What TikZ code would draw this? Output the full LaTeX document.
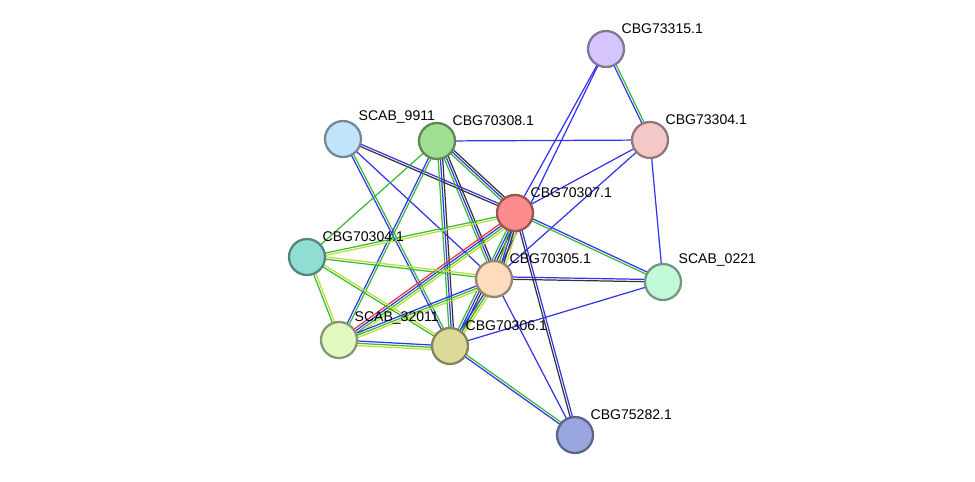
\documentclass[tikz,border=0pt]{standalone}
\usepackage{fontspec}
\setmainfont{Liberation Sans}
\usetikzlibrary{calc}
\pgfdeclarelayer{bg}
\pgfsetlayers{bg,main}
\definecolor{ebl}{HTML}{3333EE}
\definecolor{egr}{HTML}{33BB33}
\definecolor{eye}{HTML}{BBDD33}
\definecolor{ebk}{HTML}{333333}
\definecolor{ere}{HTML}{EE3333}
\definecolor{ca}{HTML}{D6C4FC}
\definecolor{cb}{HTML}{F5C8C8}
\definecolor{cc}{HTML}{C0E4FA}
\definecolor{cd}{HTML}{9EDF92}
\definecolor{ce}{HTML}{FF8C8C}
\definecolor{cf}{HTML}{90DDD3}
\definecolor{cg}{HTML}{FDDCBE}
\definecolor{ch}{HTML}{C2FAD8}
\definecolor{ci}{HTML}{E2FAC0}
\definecolor{cj}{HTML}{DCDA98}
\definecolor{ck}{HTML}{9AA6E0}
\tikzset{
  prot/.style 2 args={circle,draw=#2!60!black,fill=#2,line width=1.3pt,minimum size=0.72cm,inner sep=0pt,
    label={[anchor=south west,inner sep=1pt,font=\fontsize{8}{9}\selectfont]north east:#1}},
}
% multi-coloured link between two proteins
\newcommand{\lnk}[3]{%
  \foreach \c [count=\i] in {#3}
    \draw[\c,line width=0.7pt] ($(#1)!{(\i-1)*1.3pt}!90:(#2)$) -- ($(#2)!{(\i-1)*1.3pt}!-90:(#1)$);}
\begin{document}
\begin{tikzpicture}[x=0.02cm,y=-0.02cm]
\useasboundingbox (0,0) rectangle (975,481);

\node[prot={CBG73315.1}{ca}] (a) at (606,49)  {};
\node[prot={CBG73304.1}{cb}] (b) at (650,140) {};
\node[prot={SCAB\_9911}{cc}] (c) at (343,139) {};
\node[prot={CBG70308.1}{cd}] (d) at (437,141) {};
\node[prot={CBG70307.1}{ce}] (e) at (515,213) {};
\node[prot={CBG70304.1}{cf}] (f) at (307,257) {};
\node[prot={CBG70305.1}{cg}] (g) at (494,279) {};
\node[prot={SCAB\_0221}{ch}] (h) at (663,282) {};
\node[prot={SCAB\_32011}{ci}] (i) at (339,340) {};
\node[prot={CBG70306.1}{cj}] (j) at (450,346) {};
\node[prot={CBG75282.1}{ck}] (k) at (575,435) {};

\begin{pgfonlayer}{bg}
  \lnk{a}{b}{ebl,egr}
  \lnk{a}{e}{ebl}
  \lnk{a}{g}{ebl}
  \lnk{b}{d}{ebl}
  \lnk{b}{e}{ebl}
  \lnk{b}{g}{ebl}
  \lnk{b}{h}{ebl}
  \lnk{c}{e}{ebk,ebl}
  \lnk{c}{g}{ebl}
  \lnk{c}{j}{ebl,egr}
  \lnk{d}{e}{egr,ebl,ebk}
  \lnk{d}{g}{egr,ebl,ebk}
  \lnk{d}{j}{egr,ebl,ebk}
  \lnk{d}{i}{ebl,egr}
  \lnk{d}{f}{egr}
  \lnk{e}{f}{egr,eye}
  \lnk{e}{i}{ere,ebl,egr,eye}
  \lnk{e}{j}{egr,ebl,ebk,eye}
  \lnk{e}{g}{egr,ebl,ebk,eye}
  \lnk{e}{h}{egr,ebl}
  \lnk{e}{k}{ebk,ebl}
  \lnk{f}{g}{egr,eye}
  \lnk{f}{i}{egr,eye}
  \lnk{f}{j}{egr,eye}
  \lnk{g}{h}{ebk,ebl}
  \lnk{g}{i}{ebl,egr,eye}
  \lnk{g}{j}{ebl,egr,eye}
  \lnk{g}{k}{ebl}
  \lnk{j}{h}{ebl}
  \lnk{j}{i}{ebl,egr,eye}
  \lnk{j}{k}{ebl,egr}
\end{pgfonlayer}
\end{tikzpicture}
\end{document}
